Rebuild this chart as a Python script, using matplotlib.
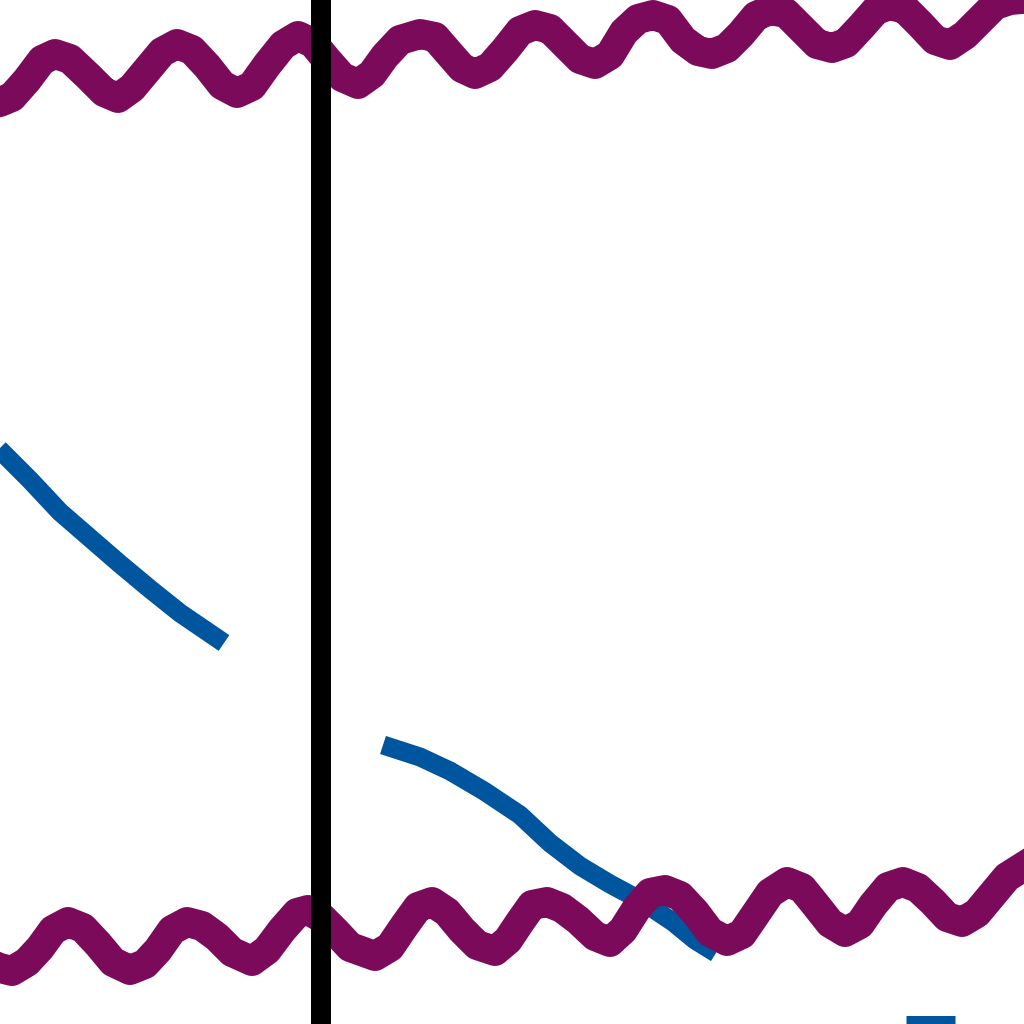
import numpy as np
import matplotlib
matplotlib.use("Agg")
import matplotlib.pyplot as plt

# purple wave near the top (x, y in picture units, y grows downwards)
top_x = [-10, 0, 12, 27, 42, 55, 70, 88, 104, 118, 132, 147, 162, 177, 192, 207, 222, 237,
         252, 267, 283, 298, 313, 327, 342, 358, 372, 385, 400, 420, 435, 448, 462, 475,
         490, 505, 520, 535, 550, 565, 580, 595, 610, 624, 638, 653, 668, 683, 698, 712,
         727, 741, 756, 770, 786, 801, 817, 832, 846, 861, 876, 890, 905, 920, 935, 950,
         965, 980, 995, 1010, 1034]
top_y = [104, 102, 97, 80, 60, 54, 59, 76, 92, 98, 88, 70, 52, 44, 50, 66, 85, 93,
         86, 65, 45, 36, 43, 60, 77, 84, 74, 56, 40, 34, 37, 52, 68, 74,
         67, 50, 31, 25, 29, 44, 59, 64, 55, 32, 19, 15, 20, 40, 51, 54,
         48, 34, 16, 10, 13, 28, 44, 48, 43, 27, 10, 5, 9, 24, 40, 45,
         35, 20, 5, 0, -2]

# purple wave near the bottom
bot_x = [-10, 0, 12, 27, 40, 53, 68, 83, 98, 113, 130, 145, 158, 172, 187, 202, 217, 232,
         252, 267, 282, 297, 308, 322, 336, 350, 375, 390, 405, 418, 432, 447, 462, 477,
         495, 508, 520, 532, 547, 562, 578, 595, 610, 623, 637, 650, 665, 680, 695, 710,
         727, 742, 755, 770, 787, 802, 815, 830, 845, 860, 873, 888, 903, 918, 933, 947,
         962, 977, 992, 1007, 1034]
bot_y = [964, 968, 971, 962, 948, 930, 922, 928, 944, 962, 970, 964, 950, 930, 922, 926, 937, 952,
         961, 950, 930, 913, 910, 918, 932, 947, 956, 947, 925, 907, 902, 912, 930, 945,
         951, 940, 922, 905, 902, 908, 920, 936, 942, 930, 908, 893, 890, 896, 912, 932,
         941, 934, 915, 893, 882, 888, 904, 923, 932, 924, 905, 887, 882, 888, 902, 917,
         922, 913, 895, 877, 860]

# blue series, visible pieces
blue1_x = [-10, 0, 30, 60, 90, 120, 150, 180, 224]
blue1_y = [440, 450, 480, 512, 538, 564, 589, 613, 643]
blue2_x = [383, 420, 450, 484, 520, 550, 580, 610, 640, 673, 695, 716]
blue2_y = [745, 757, 771, 791, 815, 843, 866, 884, 900, 922, 940, 953]
blue3_x = [906, 955]
blue3_y = [1025, 1025]

# black vertical marker
vline_x = 321

purple = '#7b0a5b'
blue = '#00559f'
px = 72 / 100.0

fig = plt.figure(figsize=(10.24, 10.24), dpi=100)
ax = fig.add_axes([0, 0, 1, 1])
ax.set_xlim(0, 1024)
ax.set_ylim(1024, 0)
ax.axis('off')

for xs, ys in [(blue1_x, blue1_y), (blue2_x, blue2_y), (blue3_x, blue3_y)]:
    ax.plot(xs, ys, color=blue, lw=19 * px, solid_capstyle='butt',
            solid_joinstyle='round', zorder=1)

ax.plot(top_x, top_y, color=purple, lw=30 * px, solid_joinstyle='round', zorder=2)
ax.plot(bot_x, bot_y, color=purple, lw=30 * px, solid_joinstyle='round', zorder=2)

ax.axvline(vline_x, color='black', lw=20 * px, zorder=3)

fig.savefig('out.png', dpi=100, facecolor='white')
